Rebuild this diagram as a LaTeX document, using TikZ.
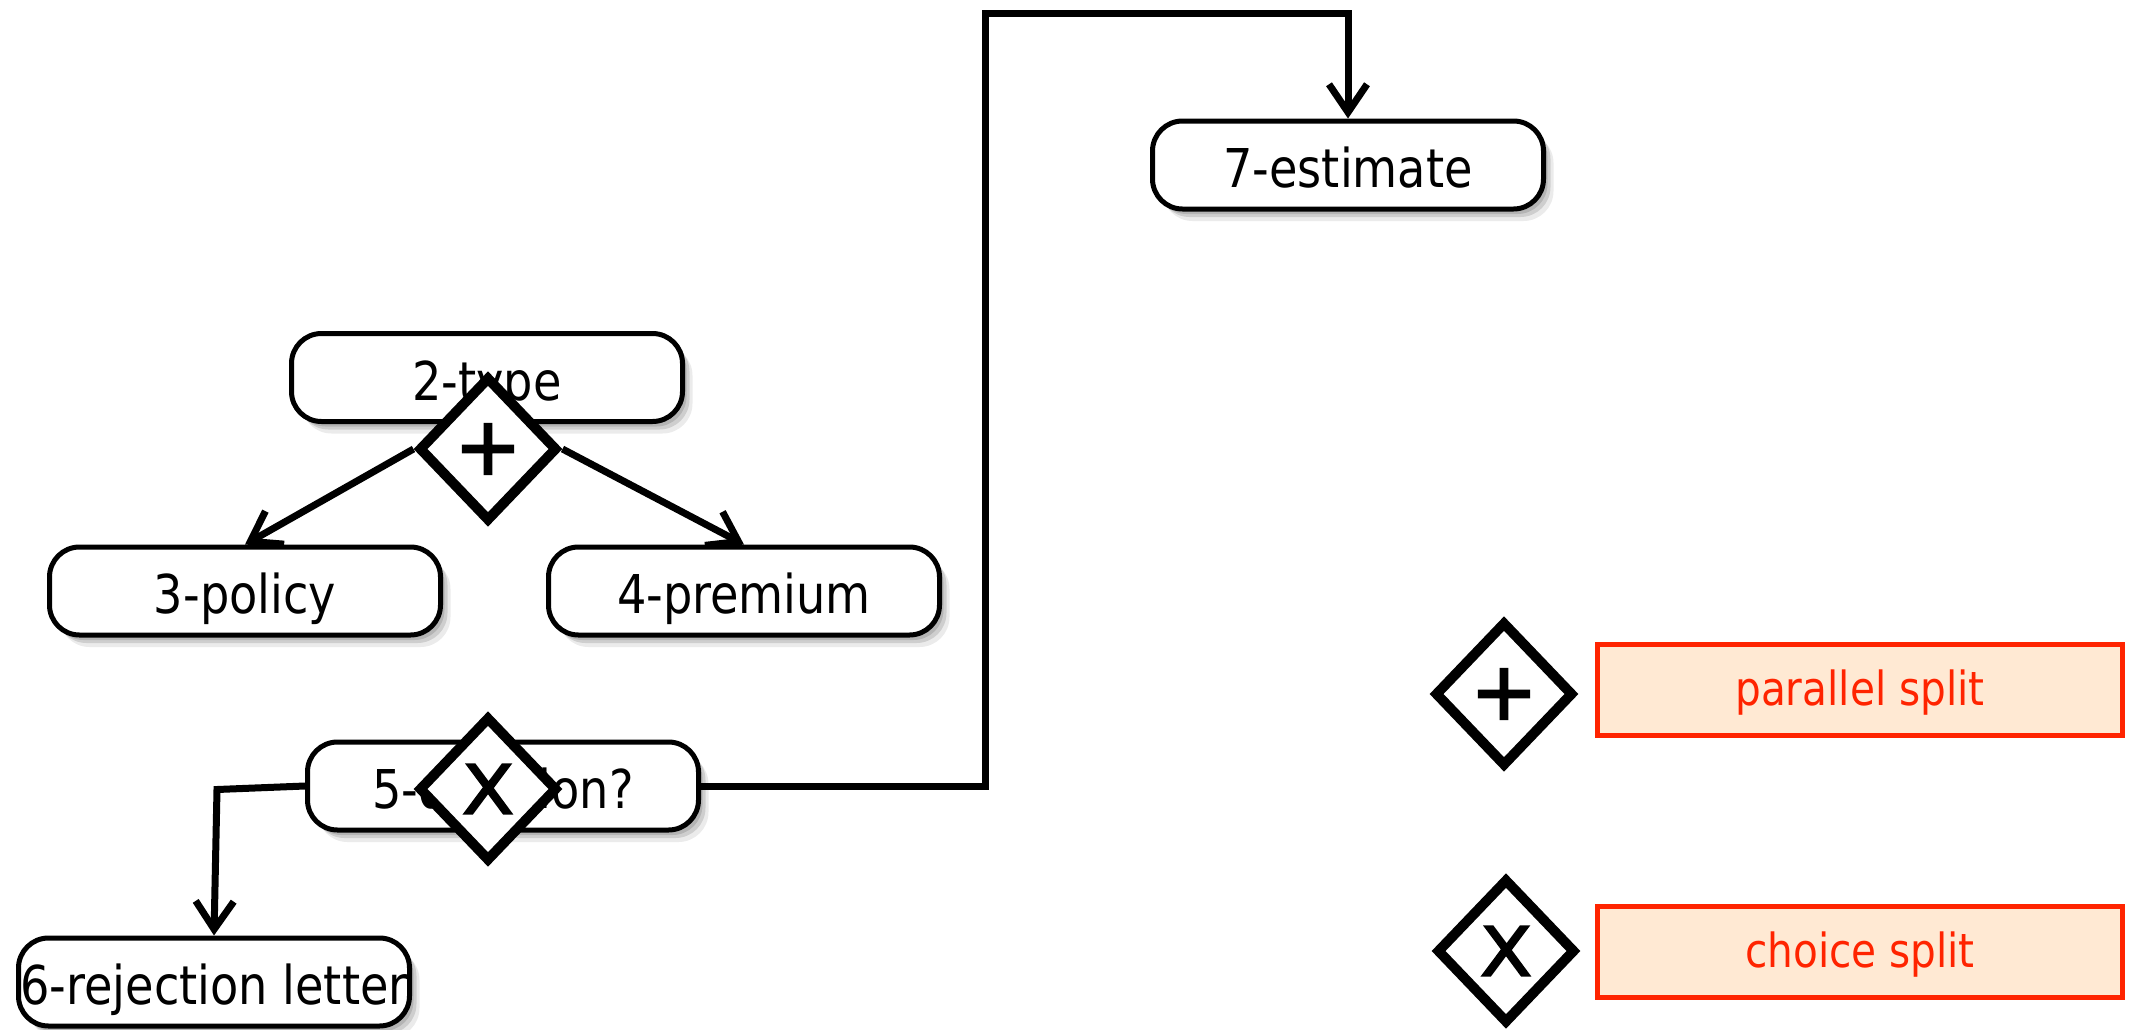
\documentclass[tikz,border=0pt]{standalone}
\usepackage{fontspec}
\setmainfont{DejaVu Sans Condensed}[FakeStretch=0.96]
\newfontfamily\gatefont{DejaVu Sans}[FakeBold=2.5]
\usetikzlibrary{shapes.geometric,arrows.meta,shadows}
\definecolor{legred}{HTML}{FF2400}
\definecolor{legfill}{HTML}{FFE9D3}
\begin{document}
\begin{tikzpicture}[x=1pt,y=-1pt,
  task/.style={draw=black, line width=5pt, rounded corners=30pt, fill=white,
    minimum width=391pt, minimum height=88pt, inner sep=0pt,
    text height=45pt, text depth=0pt,
    font=\fontsize{53.5}{60}\selectfont,
    drop shadow={shadow xshift=4pt,shadow yshift=-5pt,opacity=0.13,fill=black},
    drop shadow={shadow xshift=7pt,shadow yshift=-8pt,opacity=0.12,fill=black},
    drop shadow={shadow xshift=10pt,shadow yshift=-12pt,opacity=0.08,fill=black}},
  gate/.style={diamond, draw=black, line width=10pt, fill=white,
    minimum width=139pt, minimum height=145pt, inner sep=0pt},
  plusmark/.style={font=\gatefont\fontsize{80}{85}\selectfont},
  xmark/.style={font=\gatefont\fontsize{68}{72}\selectfont},
  legend/.style={draw=legred, line width=5pt, fill=legfill, text=legred,
    minimum width=525pt, minimum height=91pt, inner sep=0pt,
    text height=30pt, text depth=0pt,
    font=\fontsize{47}{54}\selectfont},
  flow/.style={line width=7pt, -{Straight Barb[length=28pt,width=38pt]}}]
\useasboundingbox (0,0) rectangle (2145,1029);
\node[task] (t2) at (487,377.5) {2-type};
\node[task] (t3) at (245,591) {3-policy};
\node[task] (t4) at (744,591) {4-premium};
\node[task] (t5) at (503,786) {5-decision?};
\node[task] (t6) at (214,982) {6-rejection letter};
\node[task] (t7) at (1348,165) {7-estimate};
\coordinate (c1) at (985,13.5);
\coordinate (c2) at (217,789.5);
\draw[flow] (t5.west) -- (c2) -- (t6.north);
\draw[flow] (t5.east) -| (c1) -| (t7.north);
\node[gate,plusmark] (g1) at (488,449) {\raisebox{-3pt}{+}};
\node[gate,xmark] (g2) at (488,789) {\scalebox{1.12}[1]{X}};
\draw[flow] (g1.west) -- (t3.north);
\draw[flow] (g1.east) -- (t4.north);
\node[gate,plusmark] (g3) at (1504,694) {\raisebox{-3pt}{+}};
\node[gate,xmark] (g4) at (1506,951) {\scalebox{1.12}[1]{X}};
\node[legend] (l1) at (1860,690) {parallel split};
\node[legend] (l2) at (1860,952) {choice split};
\end{tikzpicture}
\end{document}
